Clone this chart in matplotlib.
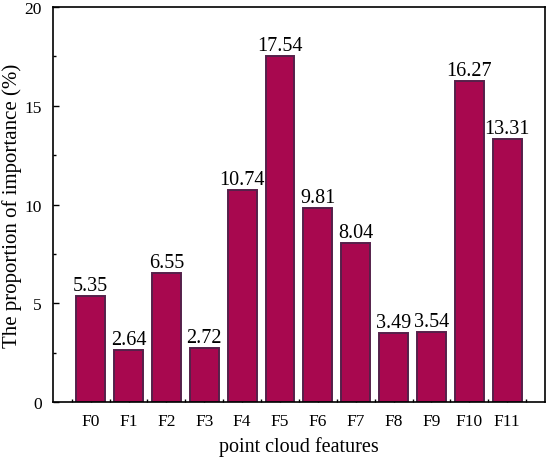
import matplotlib
matplotlib.use('Agg')
import matplotlib.pyplot as plt
from matplotlib.ticker import MultipleLocator, FixedLocator

# data
features = ['F0', 'F1', 'F2', 'F3', 'F4', 'F5', 'F6', 'F7', 'F8', 'F9', 'F10', 'F11']
importance = [5.35, 2.64, 6.55, 2.72, 10.74, 17.54, 9.81, 8.04, 3.49, 3.54, 16.27, 13.31]
value_labels = ['5.35', '2.64', '6.55', '2.72', '10.74', '17.54', '9.81', '8.04',
                '3.49', '3.54', '16.27', '13.31']

plt.rcParams['font.family'] = ['Liberation Serif', 'DejaVu Serif']

fig = plt.figure(figsize=(5.5, 4.64), dpi=100)
ax = fig.add_axes([0.096, 0.131, 0.895, 0.852])

x = list(range(len(features)))
ax.bar(x, importance, width=0.76, color='#a8084f', edgecolor='#55204a',
       linewidth=1.4, zorder=2)

for xi, v, lab in zip(x, importance, value_labels):
    ax.text(xi, v + 0.05, lab, ha='center', va='bottom', fontsize=14.5, color='black')

ax.set_xlim(-1, 12)
ax.set_ylim(0, 20)
ax.set_xticks(x)
ax.set_xticklabels(features)
ax.xaxis.set_minor_locator(FixedLocator([i + 0.5 for i in range(-1, 12)]))
ax.yaxis.set_major_locator(MultipleLocator(5))
ax.yaxis.set_minor_locator(MultipleLocator(2.5))

ax.tick_params(axis='both', which='major', direction='in', length=4, width=1,
               labelsize=12.5, colors='black')
ax.tick_params(axis='both', which='minor', direction='in', length=2.5, width=1)
ax.tick_params(axis='x', which='major', pad=8)
ax.tick_params(axis='y', which='major', pad=8)
for s in ax.spines.values():
    s.set_linewidth(1.2)

ax.set_xlabel('point cloud features', fontsize=14.5, labelpad=5)
ax.set_ylabel('The proportion of importance (%)', fontsize=15)
ax.yaxis.set_label_coords(-0.062, 0.5)

fig.savefig('out.png', dpi=100)
